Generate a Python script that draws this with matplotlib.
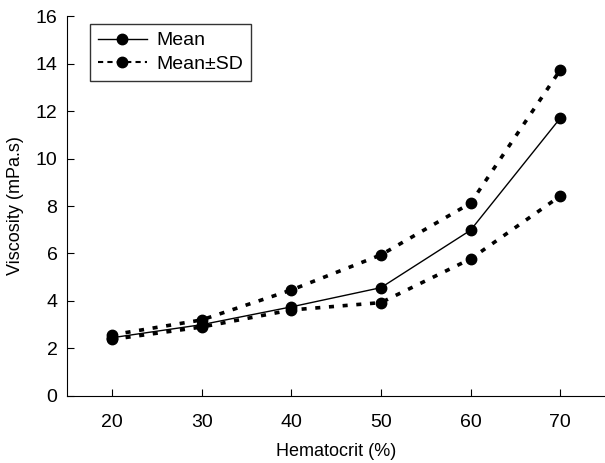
import matplotlib
matplotlib.use('Agg')
import matplotlib.pyplot as plt

hematocrit = [20, 30, 40, 50, 60, 70]
mean_visc = [2.45, 3.0, 3.75, 4.56, 6.98, 11.7]
upper_visc = [2.57, 3.2, 4.46, 5.94, 8.12, 13.73]
lower_visc = [2.38, 2.9, 3.62, 3.93, 5.77, 8.42]

plt.rcParams['font.family'] = ['Liberation Sans', 'DejaVu Sans']

fig = plt.figure(figsize=(6.05, 4.63), dpi=100)
ax = fig.add_axes([0.111, 0.145, 0.889, 0.82])

ax.plot(hematocrit, mean_visc, color='black', linewidth=1.0,
        marker='o', markersize=7.5, label='Mean')
ax.plot(hematocrit, upper_visc, color='black', linewidth=2.6,
        linestyle=(0, (1.4, 2.4)), marker='o', markersize=7.5,
        label='Mean\u00b1SD')
ax.plot(hematocrit, lower_visc, color='black', linewidth=2.6,
        linestyle=(0, (1.4, 2.4)), marker='o', markersize=7.5)

ax.set_xlim(15, 75)
ax.set_ylim(0, 16)
ax.set_xticks(hematocrit)
ax.set_yticks(range(0, 17, 2))
ax.spines['top'].set_visible(False)
ax.spines['right'].set_visible(False)
ax.tick_params(direction='in', length=5, labelsize=14)
ax.tick_params(axis='x', pad=13)
ax.tick_params(axis='y', pad=7)

ax.set_xlabel('Hematocrit (%)', fontsize=13, labelpad=9)
ax.set_ylabel('Viscosity (mPa.s)', fontsize=13, labelpad=8)

leg = ax.legend(loc='upper left', bbox_to_anchor=(0.025, 1.005), fontsize=14,
                frameon=True, fancybox=False, edgecolor='black',
                handlelength=2.5, borderpad=0.4, labelspacing=0.3,
                handletextpad=0.5)
leg.get_frame().set_linewidth(1.0)
for h in leg.get_lines():
    h.set_linewidth(1.0)
leg.get_lines()[1].set_linewidth(1.5)
leg.get_lines()[1].set_linestyle((0, (2.5, 2)))

fig.savefig('out.png', dpi=100)
